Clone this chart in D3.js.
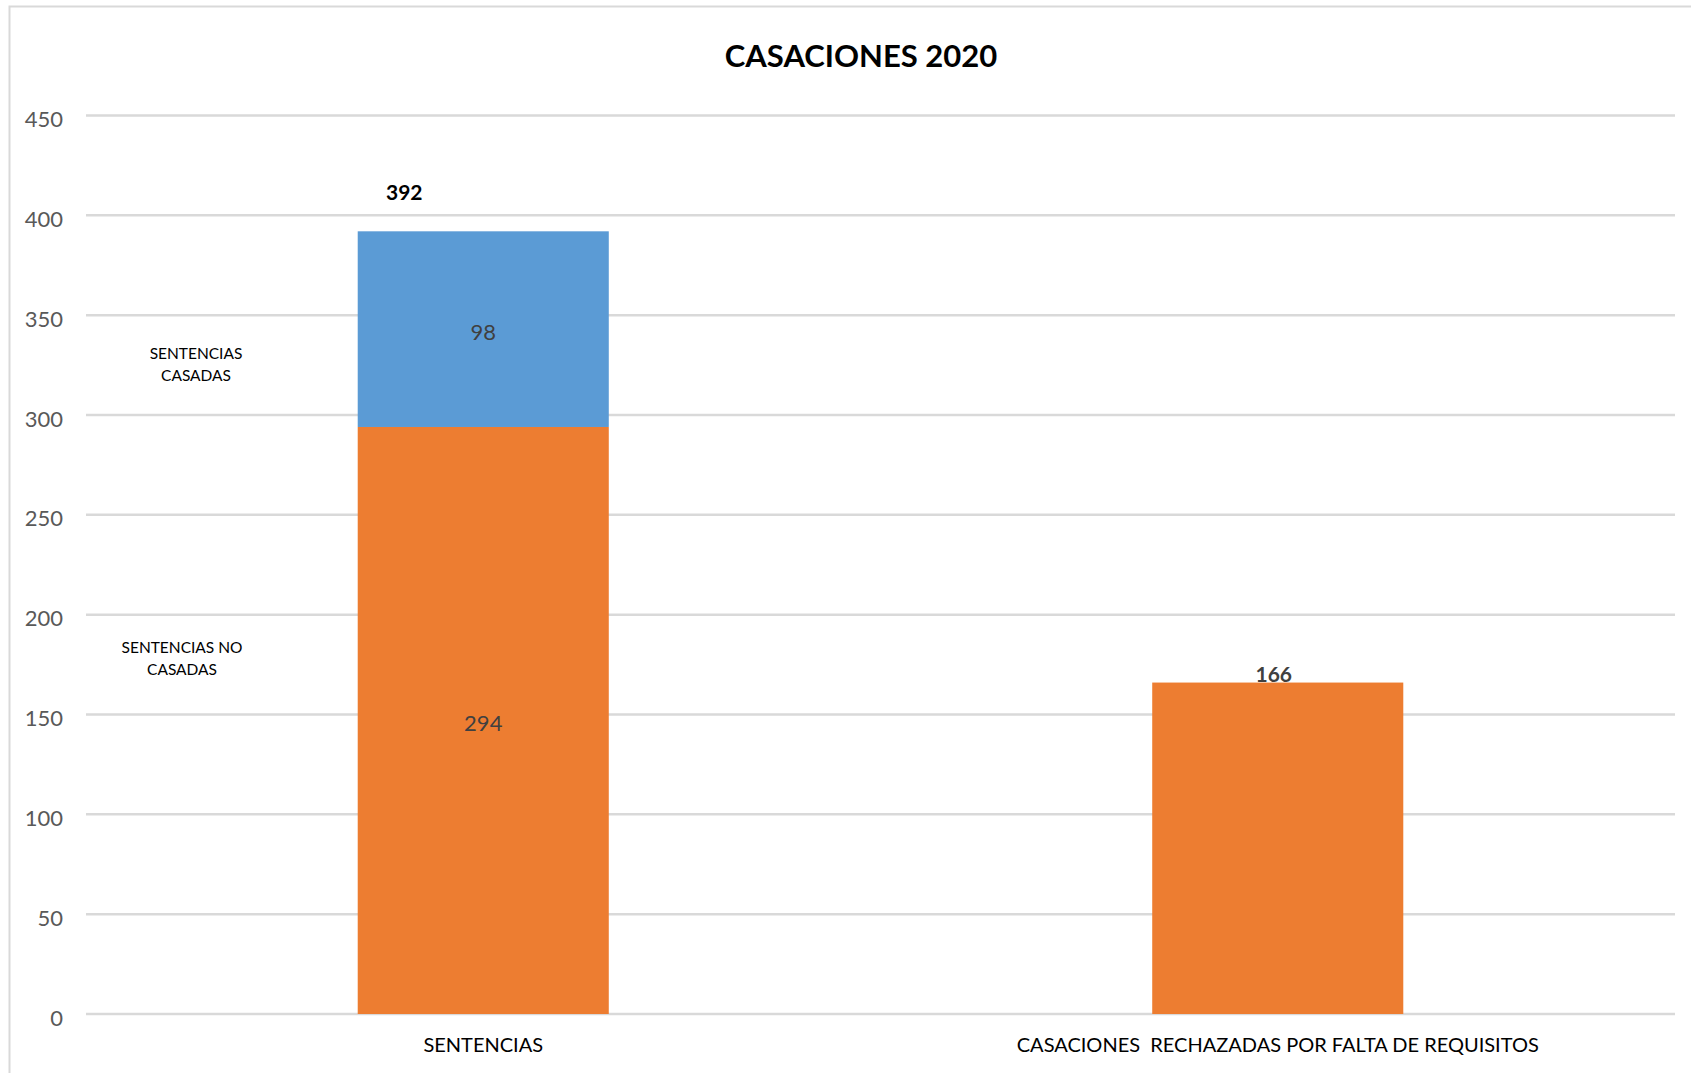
<!DOCTYPE html>
<html><head><meta charset="utf-8">
<script src="https://cdn.jsdelivr.net/npm/d3@7"></script>
<style>
body{margin:0;background:#fff;}
svg{display:block;font-family:Lato, "Open Sans", sans-serif;}
</style></head>
<body><svg id="c" width="1691" height="1073"></svg>
<script>
const categories = ["SENTENCIAS", "CASACIONES  RECHAZADAS POR FALTA DE REQUISITOS"];
const noCasadas = [294, 166];
const casadas = [98, 0];
const totals = [392, 166];
const yTicks = [0, 50, 100, 150, 200, 250, 300, 350, 400, 450];
const title = "CASACIONES 2020";
const seriesLabels = [["SENTENCIAS", "CASADAS"], ["SENTENCIAS NO", "CASADAS"]];

(function () {
const svg = d3.select("#c");
const W = 1691, H = 1073;
const pLeft = 86, pRight = 1675, pTop = 115.5, pBottom = 1014;

svg.append("rect").attr("x", 9.5).attr("y", 6.5).attr("width", W + 10).attr("height", H + 10)
  .attr("fill", "none").attr("stroke", "#d9d9d9").attr("stroke-width", 2);

const x = d3.scaleBand().domain(categories).range([pLeft, pRight]).paddingInner(0.684).paddingOuter(0.342);
const y = d3.scaleLinear().domain([0, 450]).range([pBottom, pTop]);

// gridlines
svg.append("g").selectAll("line").data(yTicks).join("line")
  .attr("x1", pLeft).attr("x2", pRight)
  .attr("y1", d => y(d)).attr("y2", d => y(d))
  .attr("stroke", "#d9d9d9").attr("stroke-width", 2.5);

// y axis labels
const yAxis = d3.axisLeft(y).tickValues(yTicks).tickSize(0).tickPadding(0);
const gy = svg.append("g").attr("transform", `translate(63,0)`).call(yAxis);
gy.select(".domain").remove();
gy.selectAll("text").attr("font-size", 22).attr("fill", "#595959").attr("font-family", "Lato, sans-serif").attr("dy", "0.5em");

// stacked data
const stackData = categories.map((c, i) => ({cat: c, noCasadas: noCasadas[i], casadas: casadas[i]}));
const stack = d3.stack().keys(["noCasadas", "casadas"])(stackData);
const colors = {noCasadas: "#ED7D31", casadas: "#5B9BD5"};

svg.append("g").selectAll("g").data(stack).join("g")
  .attr("fill", s => colors[s.key])
  .selectAll("rect").data(s => s.filter(d => d[1] - d[0] > 0)).join("rect")
  .attr("x", d => x(d.data.cat))
  .attr("width", x.bandwidth())
  .attr("y", d => y(d[1]))
  .attr("height", d => y(d[0]) - y(d[1]));

// inner labels for first bar
const bw = x.bandwidth();
svg.append("text").attr("x", x(categories[0]) + bw / 2).attr("y", y(noCasadas[0] + casadas[0] / 2) + 11)
  .attr("text-anchor", "middle").attr("font-size", 22).attr("fill", "#404040").text(casadas[0]);
svg.append("text").attr("x", x(categories[0]) + bw / 2).attr("y", y(noCasadas[0] / 2) + 11)
  .attr("text-anchor", "middle").attr("font-size", 22).attr("fill", "#404040").text(noCasadas[0]);

// totals
svg.append("text").attr("x", x(categories[0]) + bw / 2 - 79).attr("y", y(totals[0]) - 31)
  .attr("text-anchor", "middle").attr("font-size", 21).attr("font-weight", "bold").attr("fill", "#000").text(totals[0]);
svg.append("text").attr("x", x(categories[1]) + bw / 2 - 4).attr("y", y(totals[1]) - 1)
  .attr("text-anchor", "middle").attr("font-size", 21).attr("font-weight", "bold").attr("fill", "#404040").text(totals[1]);

// series labels
const sl = [{lines: seriesLabels[0], cx: 196, cy: 354}, {lines: seriesLabels[1], cx: 182, cy: 648}];
sl.forEach(o => {
  const t = svg.append("text").attr("text-anchor", "middle").attr("font-size", 15.5).attr("fill", "#000");
  o.lines.forEach((l, i) => t.append("tspan").attr("x", o.cx).attr("y", o.cy + 5 + i * 22).text(l));
});

// x axis labels
svg.append("g").selectAll("text").data(categories).join("text")
  .attr("x", d => x(d) + bw / 2).attr("y", 1052)
  .attr("text-anchor", "middle").attr("font-size", 20).attr("fill", "#000")
  .attr("xml:space", "preserve").style("white-space", "pre").text(d => d);

// title
svg.append("text").attr("x", 861).attr("y", 67).attr("text-anchor", "middle")
  .attr("font-size", 31).attr("font-weight", "bold").attr("fill", "#000").text(title);
})();
</script></body></html>
